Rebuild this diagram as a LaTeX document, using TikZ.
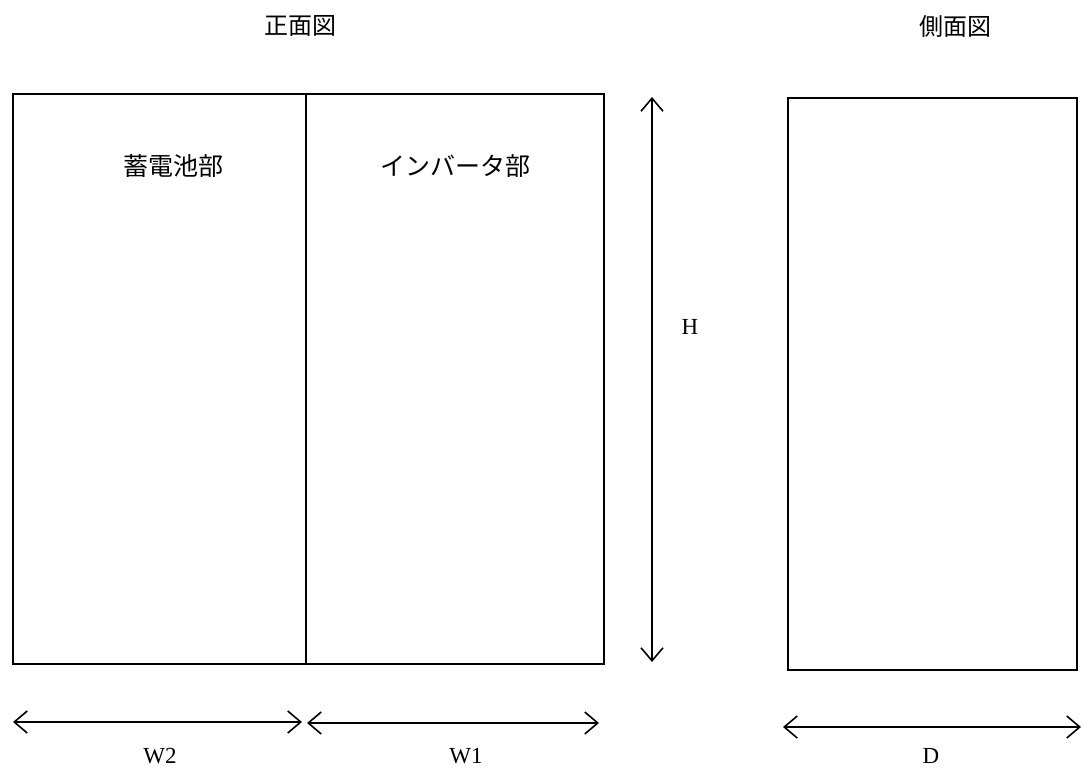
\documentclass[tikz,border=0pt]{standalone}
\usepackage{fontspec}
\setmainfont{Liberation Serif}
\newfontfamily\cjk{Noto Sans CJK JP}
\usetikzlibrary{arrows.meta}
\begin{document}
\begin{tikzpicture}[x=1pt,y=-1pt,
  box/.style={draw=black,line width=1.6pt},
  dim/.style={draw=black,line width=1.6pt,{Straight Barb[length=13pt,width=22pt,line width=1.6pt]}-{Straight Barb[length=13pt,width=22pt,line width=1.6pt]}},
  jlabel/.style={font=\cjk\fontsize{25}{28}\selectfont,inner sep=0pt},
  tlabel/.style={font=\cjk\fontsize{24}{27}\selectfont,inner sep=0pt},
  llabel/.style={font=\fontsize{23}{26}\selectfont,inner sep=0pt}]
\useasboundingbox (0,0) rectangle (1082,771);
% front view
\draw[box] (13,94) rectangle (604,664);
\draw[box,line width=2.2pt] (306,94) -- (306,664);
% side view
\draw[box] (788,98) rectangle (1077,670);
% titles
\node[tlabel] (front) at (300,26) {正面図};
\node[tlabel] (side) at (955,26) {側面図};
\node[jlabel] (bat) at (173,166) {蓄電池部};
\node[jlabel] (inv) at (455,166) {インバータ部};
% dimension arrows
\coordinate (ht) at (652,97);
\coordinate (hb) at (652,662);
\draw[dim] (ht) -- (hb);
\node[llabel] (H) at (690,327) {H};
\coordinate (w2a) at (13,722);
\coordinate (w2b) at (302,722);
\draw[dim] (w2a) -- (w2b);
\coordinate (w1a) at (307,723);
\coordinate (w1b) at (599,723);
\draw[dim] (w1a) -- (w1b);
\node[llabel] (W2) at (160,756) {W2};
\node[llabel] (W1) at (466,756) {W1};
\coordinate (da) at (783,727);
\coordinate (db) at (1081,727);
\draw[dim] (da) -- (db);
\node[llabel] (D) at (931,756) {D};
\end{tikzpicture}
\end{document}
